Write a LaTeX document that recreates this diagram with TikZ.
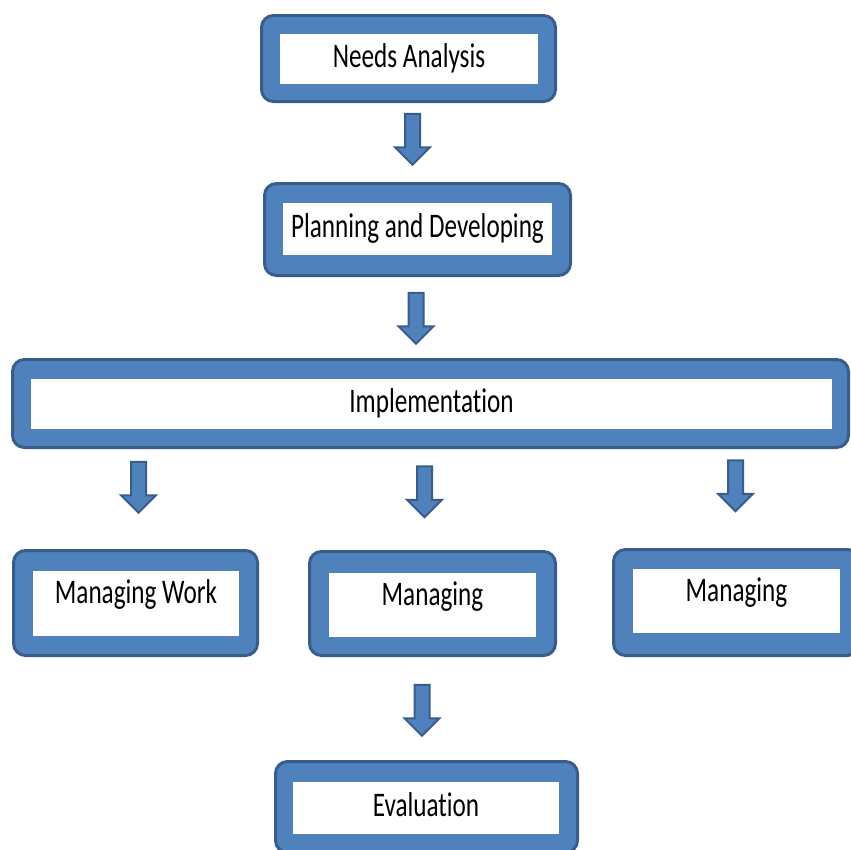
\documentclass[tikz,border=0pt]{standalone}
\usepackage{fontspec}
\setmainfont{Carlito}[FakeStretch=0.73, Ligatures=NoCommon]
\usepackage{tikz}
\usetikzlibrary{shapes, arrows, positioning}
\definecolor{boxblue}{HTML}{4F81BD}
\definecolor{edgeblue}{HTML}{385D8A}
\tikzstyle{frame}=[draw=edgeblue, line width=3pt, fill=boxblue, rounded corners=12pt, inner sep=0pt]
\tikzstyle{stage}=[fill=white, inner sep=0pt, text height=20pt, text depth=3pt, font=\fontsize{34.5}{38}\selectfont]
\tikzstyle{raised}=[text depth=20pt]
\tikzstyle{blockArrow}=[single arrow, draw=edgeblue, line width=2pt, fill=boxblue, rotate=-90, inner sep=6.5pt, minimum height=51pt, minimum width=34pt, single arrow head extend=10pt, single arrow head indent=0pt]

\begin{document}
\begin{tikzpicture}[x=1pt, y=-1pt]
    \useasboundingbox (0, 0) rectangle (851, 849);
    \clip (0, 0) rectangle (851, 849);

    \node (needsFrame)[frame, minimum width=294pt, minimum height=86pt] at (408.5, 58.5) {};
    \node (needs)[stage, minimum width=258pt, minimum height=50pt] at (409, 59) {Needs Analysis};

    \node (planFrame)[frame, minimum width=306pt, minimum height=92pt] at (417.5, 229.5) {};
    \node (plan)[stage, minimum width=269pt, minimum height=52pt] at (417.5, 229) {Planning and Developing};

    \node (implFrame)[frame, minimum width=836pt, minimum height=88pt] at (430.5, 403.5) {};
    \node (impl)[stage, minimum width=801pt, minimum height=50pt] at (431.5, 404) {Implementation};

    \node (workFrame)[frame, minimum width=244pt, minimum height=105pt] at (135.5, 603) {};
    \node (work)[stage, raised, minimum width=206pt, minimum height=65pt] at (136, 603.5) {Managing Work};

    \node (midFrame)[frame, minimum width=246pt, minimum height=104pt] at (432.5, 603.5) {};
    \node (mid)[stage, raised, minimum width=207pt, minimum height=64pt] at (432.5, 605) {Managing};

    \node (sideFrame)[frame, minimum width=246pt, minimum height=106pt] at (736.5, 602.5) {};
    \node (side)[stage, raised, minimum width=207pt, minimum height=64pt] at (736.5, 601) {Managing};

    \node (evalFrame)[frame, minimum width=302pt, minimum height=91pt] at (426.5, 807) {};
    \node (eval)[stage, minimum width=266pt, minimum height=52pt] at (426, 808) {Evaluation};

    \node (a1)[blockArrow] at (412.5, 135.5) {};
    \node (a2)[blockArrow] at (416, 314.5) {};
    \node (a3)[blockArrow] at (138.5, 483.5) {};
    \node (a4)[blockArrow] at (424.5, 488) {};
    \node (a5)[blockArrow] at (735.5, 482) {};
    \node (a6)[blockArrow] at (422, 706.5) {};

\end{tikzpicture}
\end{document}
